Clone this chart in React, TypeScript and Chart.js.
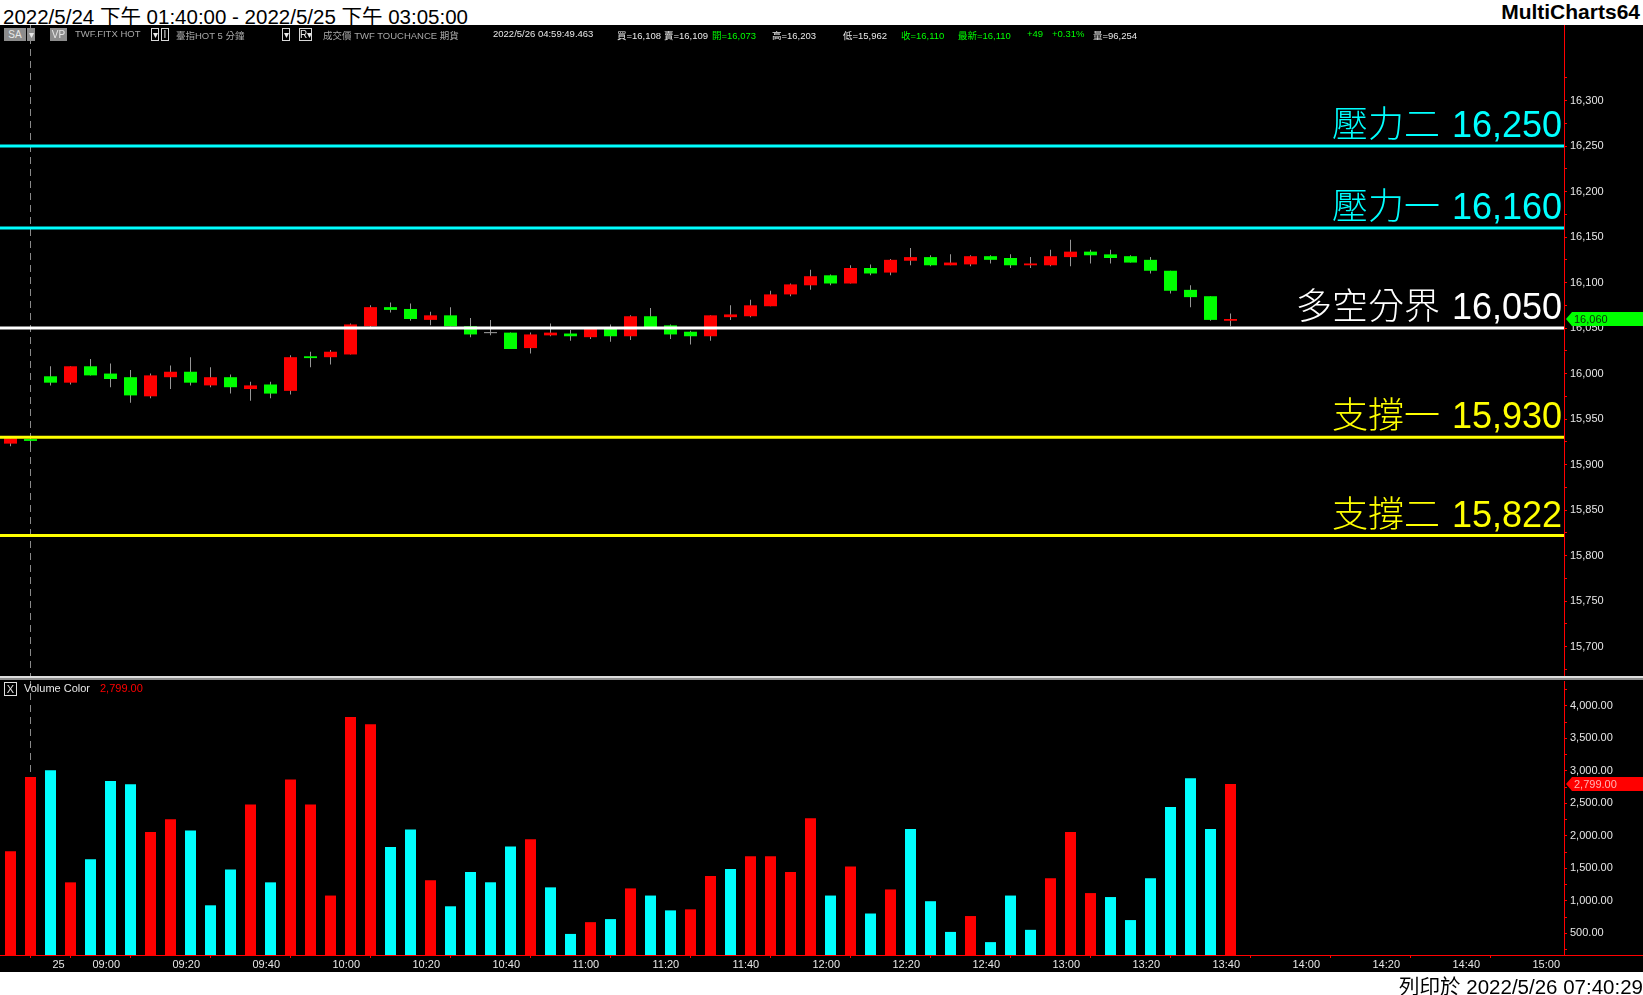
import React, { useEffect, useRef } from 'react';
import { Chart, registerables } from 'chart.js';

Chart.register(...registerables);

// ---------------- data ----------------
const opens = [15923, 15928, 15997, 15990, 16008, 16000, 15996, 15975, 15996, 16002, 15987, 15996, 15983, 15988, 15981, 16019, 16018, 16021, 16052, 16073, 16071, 16059, 16064, 16052, 16045, 16045, 16028, 16042, 16044, 16040, 16049, 16041, 16063, 16053, 16046, 16041, 16062, 16063, 16074, 16087, 16097, 16108, 16099, 16116, 16111, 16124, 16128, 16119, 16120, 16129, 16127, 16119, 16119, 16128, 16134, 16131, 16129, 16125, 16113, 16092, 16085, 16058];
const highs = [15930, 15932, 16008, 16008, 16016, 16011, 16004, 16000, 16009, 16018, 16007, 15999, 15991, 15991, 16020, 16024, 16026, 16055, 16075, 16078, 16077, 16068, 16073, 16061, 16059, 16045, 16045, 16055, 16048, 16051, 16054, 16064, 16072, 16054, 16047, 16064, 16075, 16081, 16091, 16099, 16114, 16109, 16119, 16120, 16126, 16138, 16130, 16131, 16130, 16130, 16131, 16128, 16136, 16147, 16136, 16136, 16130, 16128, 16113, 16097, 16085, 16066];
const lows = [15920, 15920, 15987, 15988, 15998, 15985, 15968, 15973, 15983, 15987, 15985, 15978, 15970, 15973, 15977, 16007, 16010, 16021, 16051, 16067, 16058, 16053, 16052, 16040, 16042, 16027, 16022, 16041, 16036, 16038, 16035, 16037, 16050, 16038, 16032, 16036, 16059, 16062, 16074, 16085, 16092, 16097, 16099, 16108, 16108, 16119, 16118, 16119, 16118, 16121, 16116, 16116, 16118, 16118, 16121, 16121, 16122, 16110, 16088, 16073, 16058, 16052];
const closes = [15929, 15926, 15990, 16008, 15998, 15994, 15976, 15998, 16002, 15990, 15996, 15985, 15987, 15978, 16018, 16017, 16024, 16054, 16073, 16070, 16060, 16064, 16052, 16043, 16045, 16027, 16043, 16045, 16041, 16050, 16041, 16063, 16051, 16043, 16041, 16064, 16065, 16075, 16087, 16098, 16107, 16099, 16116, 16110, 16125, 16128, 16119, 16122, 16129, 16125, 16119, 16121, 16129, 16134, 16130, 16127, 16122, 16113, 16091, 16084, 16059, 16060];

const volumes = [1765, 2905, 3010, 1285, 1640, 2845, 2795, 2058, 2254, 2081, 932, 1483, 2482, 1285, 2868, 2482, 1082, 3826, 3716, 1830, 2097, 1318, 917, 1444, 1286, 1838, 1948, 1208, 492, 673, 720, 1192, 1082, 854, 870, 1381, 1490, 1688, 1688, 1444, 2270, 1082, 1530, 806, 1176, 2105, 995, 523, 767, 366, 1082, 555, 1350, 2058, 1120, 1059, 705, 1350, 2443, 2884, 2105, 2799];
const volumeColorKeys = ['R', 'R', 'C', 'R', 'C', 'C', 'C', 'R', 'R', 'C', 'C', 'C', 'R', 'C', 'R', 'R', 'R', 'R', 'R', 'C', 'C', 'R', 'C', 'C', 'C', 'C', 'R', 'C', 'C', 'R', 'C', 'R', 'C', 'C', 'R', 'R', 'C', 'R', 'R', 'R', 'R', 'C', 'R', 'C', 'R', 'C', 'C', 'C', 'R', 'C', 'C', 'C', 'R', 'R', 'R', 'C', 'C', 'C', 'C', 'C', 'C', 'R'];

const levelNames = ['壓力二', '壓力一', '多空分界', '支撐一', '支撐二'];
const levelValues = [16250, 16160, 16050, 15930, 15822];
const levelColors = ['#00ffff', '#00ffff', '#ffffff', '#ffff00', '#ffff00'];

const timeTickIndex = [2, 4, 8, 12, 16, 20, 24, 28, 32, 36, 40, 44, 48, 52, 56, 60, 64, 68, 72, 76];
const timeTickLabels = ['25', '09:00', '09:20', '09:40', '10:00', '10:20', '10:40', '11:00', '11:20', '11:40', '12:00', '12:20', '12:40', '13:00', '13:20', '13:40', '14:00', '14:20', '14:40', '15:00'];

const priceTickLabels = [15700, 15750, 15800, 15850, 15900, 15950, 16000, 16050, 16100, 16150, 16200, 16250, 16300];
const volumeTickLabels = [500, 1000, 1500, 2000, 2500, 3000, 3500, 4000];

const sessionBreakIndex = 1;

// ---------------- layout constants ----------------
const W = 1643;
const X_MIN = -0.525;
const X_MAX = 77.675;
const PRICE_MIN = 15666.5;
const PRICE_MAX = 16383.1;
const VOL_MIN = 168;
const VOL_MAX = 4381;
const AXIS_W = 79;

const UP = '#ff0000';
const DOWN = '#00ff00';
const WICK = '#969696';
const CYAN = '#00ffff';
const AXIS_RED = '#ff0000';
const LABEL = '#e6e6e6';
const FONT = "'Liberation Sans', Arial, 'Noto Sans CJK TC', sans-serif";

const fmt = (v: number) => v.toLocaleString('en-US');
const fmt2 = (v: number) => v.toLocaleString('en-US', { minimumFractionDigits: 2, maximumFractionDigits: 2 });

function withMinor(major: number[]): number[] {
  const out: number[] = [];
  const step = major[1] - major[0];
  out.push(major[0] - step / 2);
  major.forEach((m) => { out.push(m); out.push(m + step / 2); });
  return out;
}

function yAxis(min: number, max: number, major: number[], labelFn: (v: number) => string) {
  const all = withMinor(major);
  return {
    type: 'linear',
    position: 'right',
    min,
    max,
    afterBuildTicks: (s: any) => { s.ticks = all.filter((v) => v >= min && v <= max).map((v) => ({ value: v })); },
    afterFit: (s: any) => { s.width = AXIS_W; s.paddingTop = 0; s.paddingBottom = 0; },
    ticks: {
      autoSkip: false,
      color: LABEL,
      font: { size: 11, family: FONT },
      padding: 3,
      callback: (v: number) => (major.includes(v) ? labelFn(v) : ''),
    },
    grid: { drawOnChartArea: false, drawTicks: true, tickLength: 3, tickColor: AXIS_RED, tickWidth: 1 },
    border: { display: true, color: AXIS_RED, width: 1 },
  };
}

function drawSessionBreak(chart: any) {
  const { ctx, chartArea, scales } = chart;
  const x = Math.round(scales.x.getPixelForValue(sessionBreakIndex)) + 0.5 - 1;
  ctx.save();
  ctx.strokeStyle = '#8a8a8a';
  ctx.lineWidth = 1;
  ctx.setLineDash([7, 5]);
  ctx.beginPath();
  ctx.moveTo(x, chartArea.top);
  ctx.lineTo(x, chartArea.bottom);
  ctx.stroke();
  ctx.restore();
}

function drawMarker(chart: any, yVal: number, text: string, bg: string, fg: string) {
  const { ctx, chartArea, scales } = chart;
  const yc = Math.round(scales.y.getPixelForValue(yVal));
  const x0 = chartArea.right + 2;
  ctx.save();
  ctx.fillStyle = bg;
  ctx.beginPath();
  ctx.moveTo(x0, yc);
  ctx.lineTo(x0 + 6, yc - 7);
  ctx.lineTo(chart.width, yc - 7);
  ctx.lineTo(chart.width, yc + 7);
  ctx.lineTo(x0 + 6, yc + 7);
  ctx.closePath();
  ctx.fill();
  ctx.fillStyle = fg;
  ctx.font = `11px ${FONT}`;
  ctx.textAlign = 'left';
  ctx.textBaseline = 'middle';
  ctx.fillText(text, x0 + 8, yc + 1);
  ctx.restore();
}

const priceOverlay = {
  id: 'priceOverlay',
  beforeDatasetsDraw(chart: any) {
    drawSessionBreak(chart);
  },
  afterDatasetsDraw(chart: any) {
    const { ctx, chartArea, scales } = chart;
    ctx.save();
    levelValues.forEach((v, k) => {
      const py = scales.y.getPixelForValue(v);
      const right = chartArea.right - 2;
      const num = fmt(v);
      ctx.fillStyle = levelColors[k];
      ctx.textAlign = 'right';
      ctx.textBaseline = 'alphabetic';
      ctx.font = `36px 'Liberation Sans', Arial, sans-serif`;
      ctx.fillText(num, right, py - 9);
      const w = ctx.measureText(num).width;
      ctx.font = `300 36px 'Noto Sans CJK TC', sans-serif`;
      ctx.fillText(levelNames[k], right - w - 12, py - 9);
    });
    ctx.restore();
  },
  afterDraw(chart: any) {
    const last = closes[closes.length - 1];
    drawMarker(chart, last, fmt(last), '#00ff00', '#0a300a');
  },
};

const volumeOverlay = {
  id: 'volumeOverlay',
  beforeDatasetsDraw(chart: any) {
    drawSessionBreak(chart);
  },
  afterDraw(chart: any) {
    const { ctx, chartArea } = chart;
    ctx.save();
    ctx.fillStyle = AXIS_RED;
    ctx.fillRect(0, Math.round(chartArea.bottom), chart.width, 1);
    ctx.restore();
    const last = volumes[volumes.length - 1];
    drawMarker(chart, last, fmt2(last), '#ff0000', '#ffb4b4');
  },
};

function priceConfig(): any {
  const bodies = opens.map((o, i) => ({ x: i, y: o === closes[i] ? [o - 0.6, o + 0.6] : [o, closes[i]] }));
  const bodyColors = opens.map((o, i) => (closes[i] > o ? UP : closes[i] < o ? DOWN : WICK));
  const wicks = opens.map((_, i) => ({ x: i, y: [lows[i], highs[i]] }));
  const levelSets = levelValues.map((v, k) => ({
    type: 'line',
    data: [{ x: X_MIN, y: v }, { x: X_MAX, y: v }],
    borderColor: levelColors[k],
    borderWidth: 3,
    pointRadius: 0,
    order: 0,
  }));
  return {
    type: 'bar',
    data: {
      datasets: [
        ...levelSets,
        { type: 'bar', data: wicks, backgroundColor: WICK, barThickness: 1, grouped: false, order: 3, borderWidth: 0, inflateAmount: 0 },
        { type: 'bar', data: bodies, backgroundColor: bodyColors, barThickness: 13, grouped: false, order: 2, borderWidth: 0, inflateAmount: 0 },
      ],
    },
    options: {
      responsive: false,
      animation: false,
      devicePixelRatio: 1,
      events: [],
      layout: { padding: 0, autoPadding: false },
      plugins: { legend: { display: false }, tooltip: { enabled: false } },
      scales: {
        x: { type: 'linear', display: false, min: X_MIN, max: X_MAX, offset: false },
        y: yAxis(PRICE_MIN, PRICE_MAX, priceTickLabels, fmt),
      },
    },
    plugins: [priceOverlay],
  };
}

function volumeConfig(): any {
  const data = volumes.map((v, i) => ({ x: i, y: v }));
  const colors = volumeColorKeys.map((c) => (c === 'R' ? UP : CYAN));
  return {
    type: 'bar',
    data: {
      datasets: [
        { type: 'bar', data, backgroundColor: colors, barThickness: 11, grouped: false, borderWidth: 0, inflateAmount: 0 },
      ],
    },
    options: {
      responsive: false,
      animation: false,
      devicePixelRatio: 1,
      events: [],
      layout: { padding: 0, autoPadding: false },
      plugins: { legend: { display: false }, tooltip: { enabled: false } },
      scales: {
        x: {
          type: 'linear',
          min: X_MIN,
          max: X_MAX,
          offset: false,
          afterBuildTicks: (s: any) => { s.ticks = timeTickIndex.map((v) => ({ value: v })); },
          afterFit: (s: any) => { s.height = 17; s.paddingLeft = 0; s.paddingRight = 0; },
          ticks: {
            autoSkip: false,
            maxRotation: 0,
            minRotation: 0,
            align: 'start',
            labelOffset: 2,
            padding: 0,
            color: LABEL,
            font: { size: 11, family: FONT },
            callback: (_v: number, i: number) => timeTickLabels[i],
          },
          grid: { drawOnChartArea: false, drawTicks: true, tickLength: 3, tickColor: AXIS_RED },
          border: { display: true, color: AXIS_RED, width: 1 },
        },
        y: yAxis(VOL_MIN, VOL_MAX, volumeTickLabels, fmt2),
      },
    },
    plugins: [volumeOverlay],
  };
}

// ---------------- small UI helpers ----------------
const HFONT = "'Liberation Sans', Arial, 'Noto Sans CJK TC', sans-serif";

function Txt({ x, text, color }: { x: number; text: string; color: string }) {
  return (
    <span style={{ position: 'absolute', left: x, top: 28, height: 13, lineHeight: '13px', font: `9.5px ${HFONT}`, color, whiteSpace: 'nowrap' }}>{text}</span>
  );
}

function Box({ x, w, text, filled }: { x: number; w: number; text: string; filled: boolean }) {
  return (
    <span
      style={{
        position: 'absolute', left: x, top: 28, width: w, height: 13, boxSizing: 'border-box',
        background: filled ? '#8c8c8c' : '#000', border: filled ? 'none' : '1px solid #d8d8d8',
        color: '#e8e8e8', font: `10px ${HFONT}`, lineHeight: filled ? '13px' : '11px',
        textAlign: 'center', whiteSpace: 'nowrap', overflow: 'hidden',
      }}
    >{text}</span>
  );
}

export default function App() {
  const priceRef = useRef<HTMLCanvasElement>(null);
  const volRef = useRef<HTMLCanvasElement>(null);

  useEffect(() => {
    Chart.defaults.font.family = FONT;
    const pc = new Chart(priceRef.current as HTMLCanvasElement, priceConfig());
    const vc = new Chart(volRef.current as HTMLCanvasElement, volumeConfig());
    return () => { pc.destroy(); vc.destroy(); };
  }, []);

  const GRAY = '#a8a8a8';
  const WHITE = '#e8e8e8';
  const GREEN = '#00ff00';

  return (
    <div style={{ position: 'absolute', left: 0, top: 0, width: W, height: 995, background: '#fff', overflow: 'hidden' }}>
      <div style={{ position: 'absolute', left: 3, top: 0, height: 24, lineHeight: '24px', font: `20.5px ${HFONT}`, color: '#000', whiteSpace: 'nowrap' }}>
        2022/5/24 下午 01:40:00 - 2022/5/25 下午 03:05:00
      </div>
      <div style={{ position: 'absolute', right: 3, top: 0, height: 24, lineHeight: '24px', font: `bold 21px ${HFONT}`, color: '#000' }}>
        MultiCharts64
      </div>
      <div style={{ position: 'absolute', left: 0, top: 25, width: W, height: 947, background: '#000' }} />
      <canvas ref={priceRef} width={W} height={652} style={{ position: 'absolute', left: 0, top: 25 }} />
      <div style={{ position: 'absolute', left: 0, top: 676, width: W, height: 2, background: '#dcdcdc' }} />
      <div style={{ position: 'absolute', left: 0, top: 678, width: W, height: 2, background: '#8c8c8c' }} />
      <canvas ref={volRef} width={W} height={291} style={{ position: 'absolute', left: 0, top: 681 }} />

      {/* header row */}
      <Box x={4} w={22} text="SA" filled />
      <Box x={27} w={8} text="▾" filled />
      <Box x={50} w={17} text="VP" filled />
      <Txt x={75} text="TWF.FITX HOT" color={GRAY} />
      <Box x={151} w={8} text="▾" filled={false} />
      <Box x={161} w={8} text="I" filled={false} />
      <Txt x={176} text="臺指HOT  5 分鐘" color={GRAY} />
      <Box x={282} w={8} text="▾" filled={false} />
      <Box x={299} w={13} text="R▾" filled={false} />
      <Txt x={323} text="成交價  TWF  TOUCHANCE  期貨" color={GRAY} />
      <Txt x={493} text="2022/5/26  04:59:49.463" color={WHITE} />
      <Txt x={617} text="買=16,108" color={WHITE} />
      <Txt x={664} text="賣=16,109" color={WHITE} />
      <Txt x={712} text="開=16,073" color={GREEN} />
      <Txt x={772} text="高=16,203" color={WHITE} />
      <Txt x={843} text="低=15,962" color={WHITE} />
      <Txt x={901} text="收=16,110" color={GREEN} />
      <Txt x={958} text="最新=16,110" color={GREEN} />
      <Txt x={1027} text="+49" color={GREEN} />
      <Txt x={1052} text="+0.31%" color={GREEN} />
      <Txt x={1093} text="量=96,254" color={WHITE} />

      {/* volume panel header */}
      <span style={{ position: 'absolute', left: 4, top: 682, width: 13, height: 14, boxSizing: 'border-box', border: '1px solid #e0e0e0', color: '#e0e0e0', font: `11px ${HFONT}`, lineHeight: '12px', textAlign: 'center' }}>X</span>
      <span style={{ position: 'absolute', left: 24, top: 682, lineHeight: '14px', font: `11px ${HFONT}`, color: WHITE }}>Volume Color</span>
      <span style={{ position: 'absolute', left: 100, top: 682, lineHeight: '14px', font: `11px ${HFONT}`, color: '#ff0000' }}>{fmt2(volumes[volumes.length - 1])}</span>

      <div style={{ position: 'absolute', right: 0, top: 970, height: 24, lineHeight: '24px', font: `20.5px ${HFONT}`, color: '#000', whiteSpace: 'nowrap' }}>
        列印於 2022/5/26 07:40:29
      </div>
    </div>
  );
}
